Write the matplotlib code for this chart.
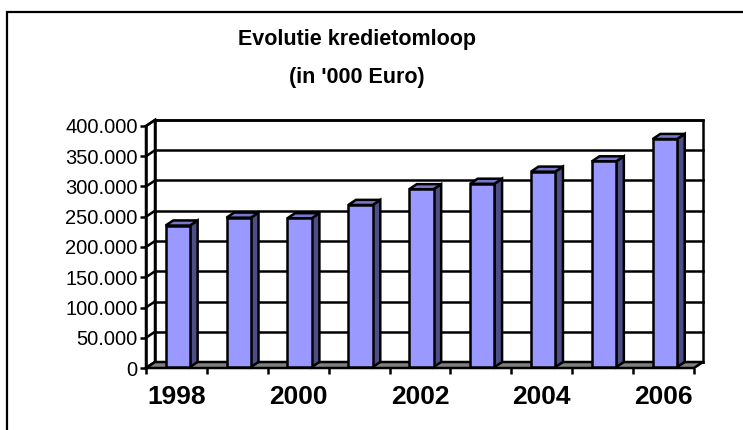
import matplotlib
matplotlib.use('Agg')
import matplotlib.pyplot as plt
from matplotlib.patches import Polygon, Rectangle
from matplotlib.ticker import FuncFormatter

plt.rcParams['font.family'] = ['Liberation Sans', 'DejaVu Sans']

# Data (in '000 Euro)
years = ['1998', '1999', '2000', '2001', '2002', '2003', '2004', '2005', '2006']
credit = [234000, 247000, 246000, 268000, 294000, 303000, 323000, 340000, 377000]
y_ticks = [0, 50000, 100000, 150000, 200000, 250000, 300000, 350000, 400000]
y_max = 400000

FRONT = '#9999FF'
SIDE = '#4E4E86'
TOP = '#7777CC'
FLOOR = '#808080'

W, H = 743, 430
fig = plt.figure(figsize=(W / 100, H / 100), dpi=100)

# outer chart border (runs off the right and bottom of the picture)
fig.patches.append(Rectangle((7 / W, -0.1), 1.1, (H - 12) / H + 0.1,
                             transform=fig.transFigure, fill=False,
                             edgecolor='black', linewidth=1.6))

ax_left, ax_bottom, ax_w, ax_h = 146, 62, 548, 242
ax = fig.add_axes([ax_left / W, ax_bottom / H, ax_w / W, ax_h / H])
n = len(years)
ax.set_xlim(-0.5, n - 0.5)
ax.set_ylim(0, y_max)
ax.set_facecolor('none')

# 3D depth offset, 9px right and 6px up, expressed in data units
ddx = 9 / (ax_w / n)
ddy = 6 / (ax_h / y_max)

lw = 1.8
# back wall
ax.add_patch(Rectangle((-0.5 + ddx, ddy), n, y_max, facecolor='white',
                       edgecolor='black', lw=lw, clip_on=False, zorder=1))
for v in y_ticks:
    ax.plot([-0.5 + ddx, n - 0.5 + ddx], [v + ddy, v + ddy], color='black',
            lw=lw, clip_on=False, zorder=1.1)
# left side wall
ax.add_patch(Polygon([(-0.5, 0), (-0.5 + ddx, ddy), (-0.5 + ddx, y_max + ddy), (-0.5, y_max)],
                     closed=True, facecolor='white', edgecolor='black', lw=lw,
                     clip_on=False, zorder=1.2))
for v in y_ticks:
    ax.plot([-0.5, -0.5 + ddx], [v, v + ddy], color='black', lw=lw,
            clip_on=False, zorder=1.3)
# floor
ax.add_patch(Polygon([(-0.5, 0), (n - 0.5, 0), (n - 0.5 + ddx, ddy), (-0.5 + ddx, ddy)],
                     closed=True, facecolor=FLOOR, edgecolor='black', lw=lw,
                     clip_on=False, zorder=1.4))

# bars: front face at depth f0, back at f1
f0, f1 = 0.15, 1.0
d = f1 - f0
half = 0.2
for i, v in enumerate(credit):
    x0 = i - half + f0 * ddx
    x1 = i + half + f0 * ddx
    y0 = f0 * ddy
    top = v + y0
    front = Polygon([(x0, y0), (x1, y0), (x1, top), (x0, top)], closed=True,
                    facecolor=FRONT, edgecolor='black', lw=lw, clip_on=False, zorder=3)
    side = Polygon([(x1, y0), (x1 + d * ddx, y0 + d * ddy),
                    (x1 + d * ddx, top + d * ddy), (x1, top)], closed=True,
                   facecolor=SIDE, edgecolor='black', lw=lw, clip_on=False, zorder=2.9)
    lid = Polygon([(x0, top), (x1, top), (x1 + d * ddx, top + d * ddy),
                   (x0 + d * ddx, top + d * ddy)], closed=True,
                  facecolor=TOP, edgecolor='black', lw=lw, clip_on=False, zorder=2.9)
    for p in (side, lid, front):
        ax.add_patch(p)

# axes / ticks
for s in ('top', 'right', 'bottom'):
    ax.spines[s].set_visible(False)
ax.spines['left'].set_linewidth(lw)
ax.spines['left'].set_zorder(4)

ax.set_yticks(y_ticks)
ax.yaxis.set_major_formatter(FuncFormatter(lambda v, _: f'{v:,.0f}'.replace(',', '.')))
ax.tick_params(axis='y', direction='out', length=4, width=lw, pad=2, labelsize=14.5)

ax.set_xticks(range(0, n, 2))
ax.set_xticklabels(years[::2], fontsize=19, fontweight='bold')
ax.set_xticks([i - 0.5 for i in range(n + 1)], minor=True)
ax.tick_params(axis='x', which='major', length=0, pad=12)
ax.tick_params(axis='x', which='minor', direction='out', length=4, width=lw)

# title
fig.text(357 / W, 1 - 39 / H, 'Evolutie kredietomloop', ha='center', va='center',
         fontsize=15.5, fontweight='bold')
fig.text(357 / W, 1 - 78 / H, "(in '000 Euro)", ha='center', va='center',
         fontsize=15.5, fontweight='bold')

fig.savefig('out.png', dpi=100, facecolor='white')
